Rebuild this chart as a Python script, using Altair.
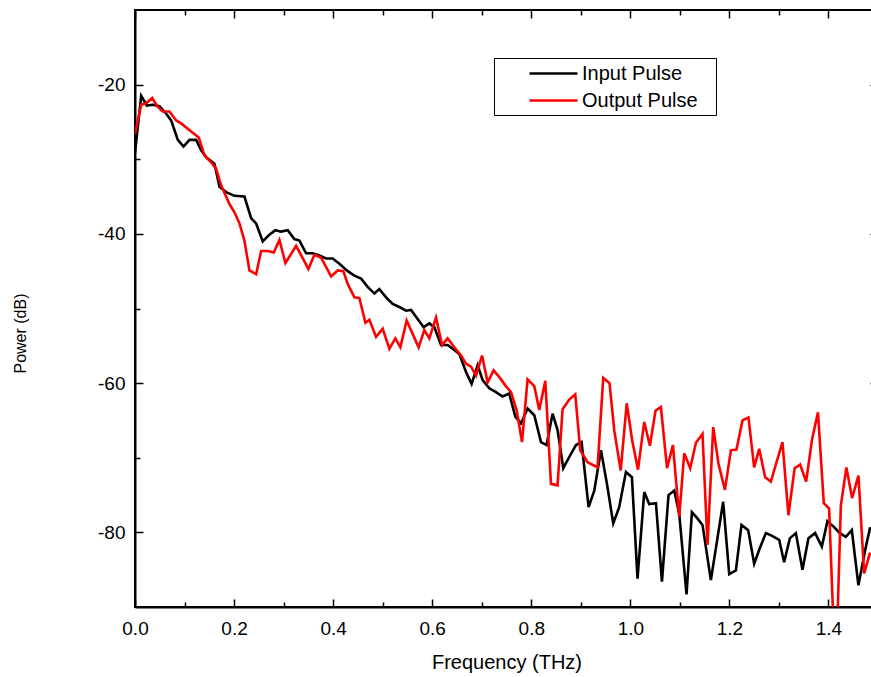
import altair as alt
import pandas as pd

# ---------------- data ----------------
freq_in = [0.0, 0.0125, 0.0238, 0.0359, 0.0494, 0.0630, 0.0730, 0.0864, 0.0979, 0.1100,
           0.1235, 0.1336, 0.1449, 0.1604, 0.1705, 0.1840, 0.2008, 0.2209, 0.2345, 0.2446,
           0.2579, 0.2714, 0.2835, 0.2950, 0.3083, 0.3218, 0.3319, 0.3454, 0.3588, 0.3723,
           0.3858, 0.3991, 0.4126, 0.4294, 0.4429, 0.4564, 0.4697, 0.4833, 0.4933, 0.5069,
           0.5202, 0.5337, 0.5472, 0.5573, 0.5706, 0.5827, 0.5942, 0.6043, 0.6178, 0.6312,
           0.6412, 0.6548, 0.6683, 0.6796, 0.6917, 0.7018, 0.7153, 0.7288, 0.7421, 0.7556,
           0.7678, 0.7793, 0.7926, 0.8061, 0.8196, 0.8309, 0.8430, 0.8531, 0.8646, 0.8767,
           0.8902, 0.9015, 0.9157, 0.9272, 0.9407, 0.9528, 0.9655, 0.9776, 0.9911, 1.0032,
           1.0145, 1.0281, 1.0381, 1.0517, 1.0638, 1.0771, 1.0886, 1.0987, 1.1134, 1.1243,
           1.1350, 1.1457, 1.1626, 1.1874, 1.1996, 1.2131, 1.2244, 1.2379, 1.2500, 1.2615,
           1.2736, 1.2843, 1.3005, 1.3105, 1.3220, 1.3342, 1.3475, 1.3596, 1.3731, 1.3866,
           1.3979, 1.4114, 1.4229, 1.4350, 1.4471, 1.4605, 1.4740, 1.4841]
power_in = [-29.1, -21.5, -22.8, -22.7, -22.9, -23.9, -24.8, -27.4, -28.3, -27.4,
            -27.4, -28.8, -29.8, -30.6, -33.7, -34.4, -34.9, -35.0, -37.9, -38.6,
            -41.0, -40.1, -39.5, -39.7, -39.5, -40.7, -40.9, -42.6, -42.6, -42.9,
            -43.3, -43.3, -44.0, -45.0, -45.6, -46.0, -47.1, -48.0, -47.4, -48.5,
            -49.4, -49.8, -50.3, -50.2, -51.4, -52.5, -52.0, -52.5, -54.9, -54.9,
            -55.4, -56.1, -58.5, -60.1, -57.6, -59.6, -60.7, -61.2, -61.8, -61.4,
            -64.5, -65.4, -63.4, -64.3, -67.9, -68.3, -64.1, -66.3, -71.4, -69.9,
            -68.3, -67.9, -76.6, -74.4, -69.0, -73.5, -78.8, -76.6, -71.9, -72.6,
            -86.2, -74.6, -76.2, -76.1, -86.6, -75.0, -74.4, -77.5, -88.3, -77.3,
            -78.1, -79.0, -86.4, -75.9, -85.6, -85.1, -79.0, -79.7, -84.2, -82.1,
            -80.1, -80.4, -81.0, -84.0, -80.8, -80.1, -85.0, -80.8, -80.1, -81.9,
            -78.5, -79.3, -80.1, -80.6, -79.7, -87.1, -82.4, -79.3]

freq_out = [0.0, 0.0125, 0.0226, 0.0347, 0.0460, 0.0561, 0.0696, 0.0831, 0.0932, 0.1065,
            0.1287, 0.1402, 0.1538, 0.1638, 0.1739, 0.1907, 0.2008, 0.2109, 0.2209, 0.2310,
            0.2446, 0.2546, 0.2680, 0.2801, 0.2916, 0.3037, 0.3253, 0.3501, 0.3622, 0.3757,
            0.3959, 0.4092, 0.4207, 0.4294, 0.4429, 0.4530, 0.4651, 0.4732, 0.4867, 0.5000,
            0.5135, 0.5256, 0.5357, 0.5484, 0.5605, 0.5726, 0.5841, 0.5942, 0.6077, 0.6199,
            0.6312, 0.6447, 0.6582, 0.6683, 0.6784, 0.6885, 0.7006, 0.7119, 0.7240, 0.7355,
            0.7476, 0.7591, 0.7704, 0.7813, 0.7926, 0.8061, 0.8162, 0.8283, 0.8398, 0.8531,
            0.8632, 0.8767, 0.8888, 0.8989, 0.9136, 0.9338, 0.9453, 0.9580, 0.9675, 0.9806,
            0.9927, 1.0038, 1.0155, 1.0281, 1.0395, 1.0508, 1.0617, 1.0741, 1.0860, 1.0987,
            1.1088, 1.1209, 1.1324, 1.1457, 1.1558, 1.1673, 1.1780, 1.1909, 1.2030, 1.2143,
            1.2264, 1.2385, 1.2500, 1.2601, 1.2722, 1.2837, 1.3071, 1.3192, 1.3317, 1.3428,
            1.3549, 1.3670, 1.3788, 1.3906, 1.4013, 1.4144, 1.4250, 1.4362, 1.4477, 1.4605,
            1.4720, 1.4841]
power_out = [-26.6, -22.7, -22.5, -21.8, -23.0, -23.6, -23.6, -24.8, -25.2, -25.9,
             -27.1, -29.5, -30.4, -31.3, -33.5, -36.0, -37.1, -38.6, -40.9, -44.9,
             -45.4, -42.3, -42.3, -42.5, -40.8, -43.9, -41.6, -44.7, -42.8, -43.2,
             -45.7, -44.9, -45.0, -46.7, -48.5, -48.6, -51.9, -51.5, -53.8, -52.7,
             -55.4, -54.0, -55.2, -51.6, -53.4, -55.2, -52.9, -54.0, -51.2, -54.9,
             -54.0, -55.2, -56.3, -57.4, -57.8, -59.0, -56.3, -59.9, -58.3, -59.2,
             -60.3, -61.2, -63.6, -67.9, -59.5, -60.4, -63.6, -59.7, -73.5, -73.7,
             -63.5, -62.2, -61.5, -69.0, -70.6, -71.3, -59.3, -60.0, -66.3, -71.7,
             -62.7, -67.7, -71.6, -65.2, -68.4, -63.7, -63.2, -71.4, -68.3, -77.9,
             -69.4, -71.4, -68.0, -66.8, -81.7, -65.9, -70.8, -74.3, -69.0, -68.9,
             -65.0, -64.6, -71.3, -68.8, -72.6, -73.2, -67.9, -77.7, -71.4, -70.9,
             -73.2, -67.5, -63.9, -76.1, -76.8, -100.0, -76.4, -71.3, -75.4, -72.4,
             -85.5, -82.7]

series_names = ["Input Pulse", "Output Pulse"]
series_colors = ["#000000", "#ff0000"]

x_domain = [0.0, 1.5]
y_domain = [-90, -10]
x_major = [0.0, 0.2, 0.4, 0.6, 0.8, 1.0, 1.2, 1.4]
x_minor = [0.1, 0.3, 0.5, 0.7, 0.9, 1.1, 1.3]
y_major = [-80, -60, -40, -20]
y_minor = [-70, -50, -30]

# ---------------- layout / style ----------------
W, H = 743, 597
FONT = "Liberation Sans, Arial, Helvetica, sans-serif"
MAJ, MIN = 8, 5
LW = 2.6

df_in = pd.DataFrame({"f": freq_in, "p": power_in, "series": series_names[0]})
df_out = pd.DataFrame({"f": freq_out, "p": power_out, "series": series_names[1]})

xs = alt.Scale(domain=x_domain, nice=False, zero=False)
ys = alt.Scale(domain=y_domain, nice=False, zero=False)

color = alt.Color(
    "series:N",
    scale=alt.Scale(domain=series_names, range=series_colors),
    legend=alt.Legend(
        title="\u00a0", titleOrient="right", titlePadding=14, titleFontSize=8,
        orient="none", legendX=359, legendY=48,
        strokeColor="black", padding=4, rowPadding=5,
        symbolType="M-2.4,0H2.4", symbolSize=400, symbolStrokeWidth=LW,
        symbolOffset=44, labelOffset=17,
        labelFont=FONT, labelFontSize=20, labelColor="black",
    ),
)

x_main = alt.Axis(orient="bottom", values=x_major, format=".1f", ticks=False,
                  labelPadding=12, labelFlush=False, labelOverlap=False,
                  labelFont=FONT, labelFontSize=19, labelColor="black",
                  domain=True, domainColor="black", domainWidth=2, grid=False,
                  title="Frequency (THz)", titleFont=FONT, titleFontSize=20,
                  titleFontWeight="normal", titleColor="black", titlePadding=14)
y_main = alt.Axis(orient="left", values=y_major, ticks=False,
                  labelExpr="datum.value + ''",
                  labelPadding=10, labelFlush=False, labelOverlap=False,
                  labelFont=FONT, labelFontSize=19, labelColor="black",
                  domain=True, domainColor="black", domainWidth=2, grid=False,
                  title="Power (dB)", titleFont=FONT, titleFontSize=16,
                  titleFontWeight="normal", titleColor="black",
                  titleX=-115, titleY=323, titleAlign="center", titleBaseline="middle")

line_in = alt.Chart(df_in).mark_line(strokeWidth=LW, clip=True).encode(
    x=alt.X("f:Q", scale=xs, axis=x_main),
    y=alt.Y("p:Q", scale=ys, axis=y_main),
    color=color,
)
line_out = alt.Chart(df_out).mark_line(strokeWidth=LW, clip=True).encode(
    x=alt.X("f:Q", scale=xs, axis=None),
    y=alt.Y("p:Q", scale=ys, axis=None),
    color=color,
)


def tick_axis(orient, offset, values, size):
    return alt.Axis(orient=orient, offset=offset, values=values, labels=False,
                    ticks=True, tickSize=size, tickWidth=1.5, tickColor="black",
                    domain=False, grid=False, title="")


def x_ticks(orient, offset, values, size):
    return alt.Chart(df_in).mark_line(strokeOpacity=0, clip=True).encode(
        x=alt.X("f:Q", scale=xs, axis=tick_axis(orient, offset, values, size)),
        y=alt.Y("p:Q", scale=ys, axis=None),
    )


def y_ticks(orient, offset, values, size):
    return alt.Chart(df_in).mark_line(strokeOpacity=0, clip=True).encode(
        x=alt.X("f:Q", scale=xs, axis=None),
        y=alt.Y("p:Q", scale=ys, axis=tick_axis(orient, offset, values, size)),
    )


tick_layers = [
    x_ticks("top", -H, x_major, MAJ),      # bottom edge, pointing up
    x_ticks("top", -H, x_minor, MIN),
    x_ticks("bottom", -H, x_major, MAJ),   # top edge, pointing down
    x_ticks("bottom", -H, x_minor, MIN),
    y_ticks("right", -W, y_major, MAJ),    # left edge, pointing right
    y_ticks("right", -W, y_minor, MIN),
    y_ticks("left", -W, y_major, MAJ),     # right edge, pointing left
    y_ticks("left", -W, y_minor, MIN),
]

chart = (
    alt.layer(*tick_layers, line_in, line_out)
    .resolve_axis(x="independent", y="independent")
    .properties(
        width=W, height=H,
        padding={"left": 135, "top": 10, "right": -7, "bottom": 70},
        autosize=alt.AutoSizeParams(type="none"),
        background="white",
    )
    .configure_view(stroke="black", strokeWidth=2)
)

chart.save("out.html", embed_options={"renderer": "svg", "actions": False})
